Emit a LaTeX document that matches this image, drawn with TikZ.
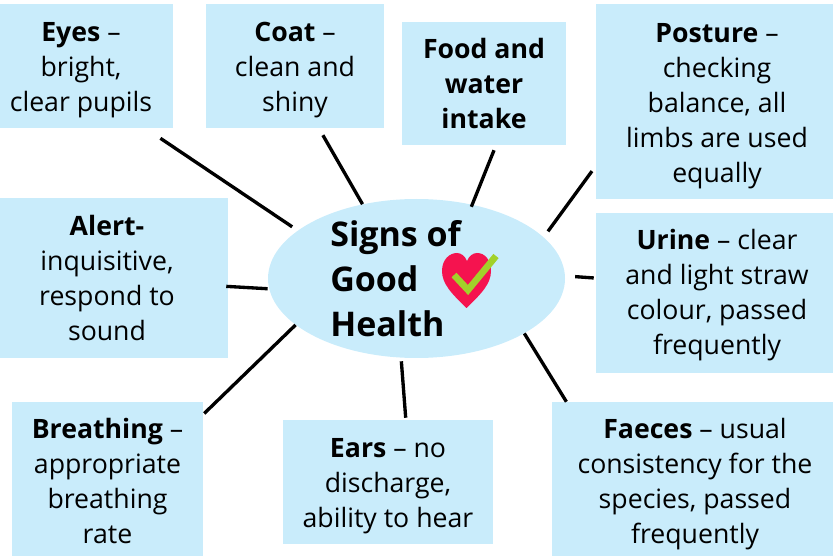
\documentclass[tikz,border=0pt]{standalone}
\usepackage{fontspec}
\setmainfont{Open Sans}
\usetikzlibrary{shapes.geometric}
\definecolor{boxblue}{HTML}{C9ECFB}
\definecolor{heartred}{HTML}{F5134F}
\definecolor{tickgreen}{HTML}{A2D12A}
\newcommand{\droptext}[1]{\rule{0pt}{#1}}
\tikzset{
  infobox/.style 2 args={fill=boxblue, align=center, inner sep=0pt,
    minimum width=#1*0.75pt, minimum height=#2*0.75pt,
    font=\fontsize{20}{26.25}\selectfont},
  spoke/.style={line width=2.5pt, black}
}
\begin{document}
\begin{tikzpicture}[x=0.75pt, y=-0.75pt]
\useasboundingbox (0,0) rectangle (833,556);
\clip (0,0) rectangle (833,556);
% --- Centre ---
\node[ellipse, fill=boxblue, inner sep=0pt, minimum width=222.75pt, minimum height=119.25pt] (hub) at (416.5,278.5) {};
\node[anchor=west, align=left, inner sep=0pt, font=\fontsize{25.5}{33.75}\selectfont\bfseries] (title) at (330,279) {Signs of\\Good\\Health};
% --- Heart and tick ---
\fill[heartred] (466.5,308) .. controls (452,294) and (442,284) .. (442,271) .. controls (442,259) and (450,253) .. (457,253) .. controls (461,253) and (465,256) .. (467,261) .. controls (469,256) and (473,253) .. (477,253) .. controls (485,253) and (491,260) .. (491,271) .. controls (491,284) and (481,294) .. (466.5,308) -- cycle;
\draw[tickgreen, line width=5pt] (454,275) -- (468,290) -- (496,256);
% --- Boxes ---
\node[infobox={184}{124}] (eyes) at (81,66) {\droptext{21pt}\textbf{Eyes} --\\bright,\\clear pupils};
\node[infobox={178}{124}] (coat) at (295,66) {\droptext{21pt}\textbf{Coat} --\\clean and\\shiny};
\node[infobox={164}{123}] (food) at (484,83.5) {\textbf{Food and}\\\textbf{water}\\\textbf{intake}};
\node[infobox={242}{195}] (posture) at (717,101.5) {\droptext{21pt}\textbf{Posture} --\\checking\\balance, all\\limbs are used\\equally};
\node[infobox={242}{160}] (urine) at (717,293) {\droptext{18.2pt}\textbf{Urine} -- clear\\and light straw\\colour, passed\\frequently};
\node[infobox={242}{160}] (alert) at (107,278) {\textbf{Alert-}\\inquisitive,\\respond to\\sound};
\node[infobox={191}{154}] (breathing) at (107.5,479) {\droptext{18.2pt}\textbf{Breathing} --\\appropriate\\breathing\\rate};
\node[infobox={210}{124}] (ears) at (388,482) {\droptext{20.4pt}\textbf{Ears} -- no\\discharge,\\ability to hear};
\node[infobox={286}{154}] (faeces) at (695,479) {\droptext{22.7pt}\textbf{Faeces} -- usual\\consistency for the\\species, passed\\frequently};
% --- Spokes ---
\draw[spoke, shorten <=13.5pt, shorten >=5pt] (eyes.-44.6) -- (hub.158.7);
\draw[spoke, shorten <=6pt] (coat.-69.7) -- (hub.126);
\draw[spoke, shorten <=4pt, shorten >=-1.8pt] (food.-79.95) -- (hub.53.1);
\draw[spoke, shorten <=4.8pt, shorten >=5.4pt] (posture.208.4) -- (hub.18.9);
\draw[spoke, shorten <=1.5pt, shorten >=7.5pt] (urine.173.5) -- (hub.1);
\draw[spoke, shorten <=-1.5pt, shorten >=1pt] (alert.-4.3) -- (hub.184);
\draw[spoke, shorten <=1pt] (breathing.34.6) -- (hub.201.8);
\draw[spoke, shorten <=1.5pt, shorten >=2.6pt] (ears.74.6) -- (hub.259.8);
\draw[spoke] (faeces.149.6) -- (hub.-27.1);
\end{tikzpicture}
\end{document}
